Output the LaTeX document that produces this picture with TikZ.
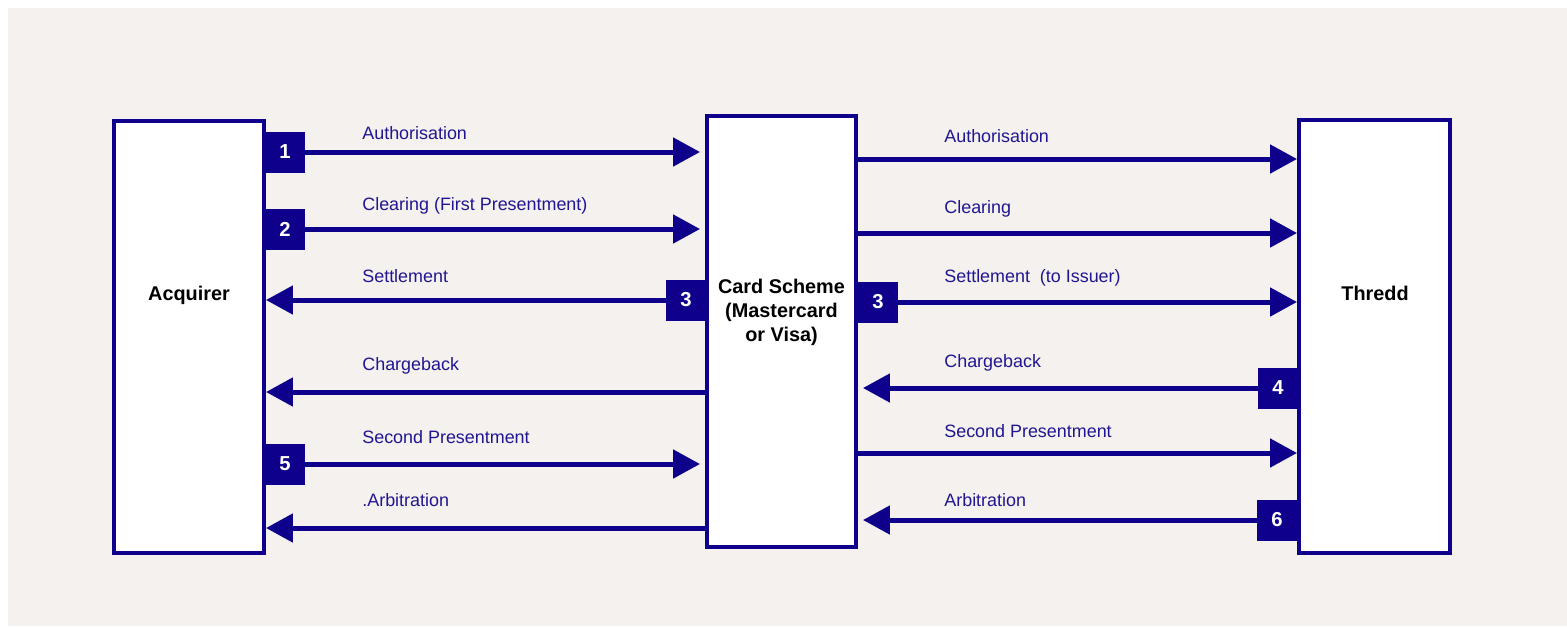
\documentclass[tikz,border=0pt]{standalone}
\usepackage{fontspec}
\setmainfont{Liberation Sans}
\usepackage{tikz}
\usetikzlibrary{arrows.meta,positioning}
\usepackage{xcolor}
\definecolor{schemeNavy}{RGB}{14, 0, 138}
\definecolor{labelNavy}{RGB}{32, 22, 145}
\definecolor{paperGrey}{RGB}{245, 241, 238}

\tikzset{
    party/.style={draw=schemeNavy, line width=0.08cm, fill=white, inner sep=0},
    partytitle/.style={font=\fontsize{11.3}{13.6}\selectfont\bfseries, align=center, inner sep=0},
    stepnum/.style={fill=schemeNavy, text=white, font=\fontsize{11.5}{13}\selectfont\bfseries, minimum width=0.8cm, minimum height=0.82cm, inner sep=0},
    flow/.style={draw=schemeNavy, line width=0.1cm, -{Triangle[length=0.54cm, width=0.56cm]}},
    msg/.style={text=labelNavy, font=\fontsize{10.2}{12}\selectfont, anchor=base west, inner sep=0}
}

\begin{document}
\begin{tikzpicture}[x=0.02cm, y=-0.02cm]
        \useasboundingbox (0, 0) rectangle (1567, 626);
        \fill[white] (0, 0) rectangle (1567, 626);
        \fill[paperGrey] (8, 8) rectangle (1567, 626);

        \node[party, minimum width=3cm, minimum height=8.64cm] (acq) at (189, 337) {};
        \node[partytitle, anchor=base] (tAcq) at (189, 300) {Acquirer};

        \node[party, minimum width=2.98cm, minimum height=8.62cm] (card) at (781.5, 331.5) {};
        \node[partytitle] (tCard) at (781.5, 312) {Card Scheme\\(Mastercard\\or Visa)};

        \node[party, minimum width=3.02cm, minimum height=8.66cm] (thredd) at (1374.5, 336.5) {};
        \node[partytitle, anchor=base] (tThredd) at (1375, 300) {Thredd};

        \node[stepnum] (n1) at (285, 152) {1};
        \node[stepnum] (n2) at (285, 229) {2};
        \node[stepnum] (n3a) at (686, 300) {3};
        \node[stepnum] (n3b) at (878, 302) {3};
        \node[stepnum] (n4) at (1278, 388) {4};
        \node[stepnum] (n5) at (285, 464) {5};
        \node[stepnum] (n6) at (1277, 520) {6};

        \coordinate (cbLeft) at (0, 392);
        \coordinate (arbLeft) at (0, 528);
        \coordinate (authRight) at (0, 159);
        \coordinate (clrRight) at (0, 233);
        \coordinate (spRight) at (0, 453);

        \draw[flow, shorten >=0.1cm] (n1.east) -- (n1 -| card.west);
        \draw[flow, shorten >=0.1cm] (n2.east) -- (n2 -| card.west);
        \draw[flow] (n3a.west) -- (n3a -| acq.east);
        \draw[flow] (card.west |- cbLeft) -- (acq.east |- cbLeft);
        \draw[flow, shorten >=0.1cm] (n5.east) -- (n5 -| card.west);
        \draw[flow] (card.west |- arbLeft) -- (acq.east |- arbLeft);

        \draw[flow] (card.east |- authRight) -- (thredd.west |- authRight);
        \draw[flow] (card.east |- clrRight) -- (thredd.west |- clrRight);
        \draw[flow] (n3b.east) -- (n3b -| thredd.west);
        \draw[flow, shorten >=0.1cm] (n4.west) -- (n4 -| card.east);
        \draw[flow] (card.east |- spRight) -- (thredd.west |- spRight);
        \draw[flow, shorten >=0.1cm] (n6.west) -- (n6 -| card.east);

        \node[msg] (lAuthL) at (362, 139) {Authorisation};
        \node[msg] (lClrL) at (362, 210) {Clearing (First Presentment)};
        \node[msg] (lSetL) at (362, 282) {Settlement};
        \node[msg] (lCbL) at (362, 370) {Chargeback};
        \node[msg] (lSpL) at (362, 443) {Second Presentment};
        \node[msg] (lArbL) at (362, 506) {.Arbitration};

        \node[msg] (lAuthR) at (944, 142) {Authorisation};
        \node[msg] (lClrR) at (944, 213) {Clearing};
        \node[msg] (lSetR) at (944, 282) {Settlement~~(to Issuer)};
        \node[msg] (lCbR) at (944, 367) {Chargeback};
        \node[msg] (lSpR) at (944, 437) {Second Presentment};
        \node[msg] (lArbR) at (944, 506) {Arbitration};
    \end{tikzpicture}
\end{document}
